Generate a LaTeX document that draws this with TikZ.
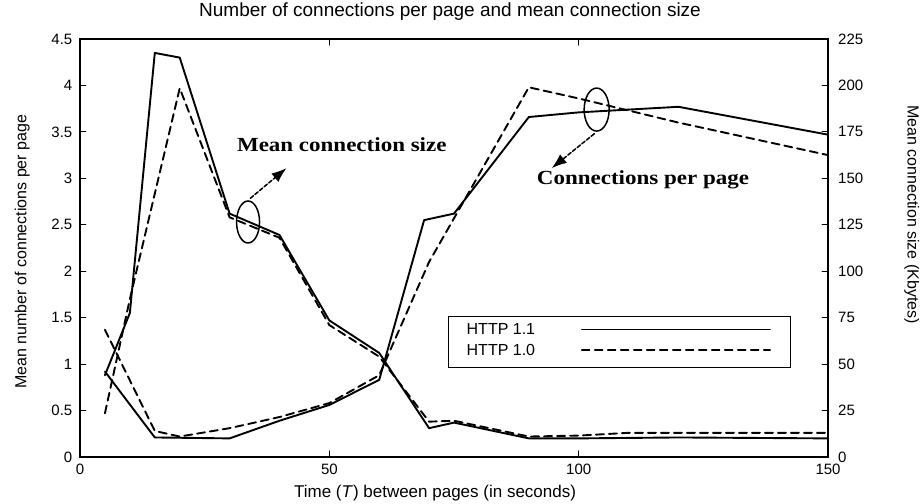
\documentclass[tikz,border=0pt]{standalone}
\usepackage{fontspec}
\setmainfont{Liberation Sans}
\newfontfamily\annfont{Liberation Serif}
\usepackage{tikz}
\usetikzlibrary{shapes.geometric, arrows.meta}
\tikzstyle{axisline} = [line width=1.6pt]
\tikzstyle{curvesolid} = [line width=1.9pt, line join=round]
\tikzstyle{curvedash} = [line width=1.9pt, line join=round, dash pattern=on 8pt off 5pt]
\tikzstyle{annarrow} = [line width=1.5pt, dash pattern=on 4pt off 2pt, shorten <=3pt, -{Latex[length=15pt,width=11pt]}]
\tikzstyle{ring} = [draw, ellipse, line width=1.5pt, inner sep=0pt]
\tikzstyle{ticklab} = [font=\fontsize{15}{18}\selectfont, inner sep=0pt]
\tikzstyle{ann} = [font=\annfont\bfseries\fontsize{20}{24}\selectfont, inner sep=0pt, xscale=1.15]

\begin{document}
\begin{tikzpicture}[line cap=round,x=4.987pt,y=92.88pt]
    \useasboundingbox (-16.04,-0.506) rectangle (169.24,4.920);
    % frame and ticks
    \draw[axisline] (0,0) rectangle (150,4.5);
    \foreach \yy in {0.5,1,...,4}
        \draw[line width=1pt] (0,\yy) -- ++(1.2,0) (150,\yy) -- ++(-1.2,0);
    \foreach \xx in {50,100}
        \draw[line width=1pt] (\xx,0) -- ++(0,0.065) (\xx,4.5) -- ++(0,-0.065);
    % tick labels
    \foreach \yy/\lab [count=\k] in {0/0,0.5/0.5,1/1,1.5/1.5,2/2,2.5/2.5,3/3,3.5/3.5,4/4,4.5/4.5}
        \node[ticklab, anchor=east] (yl\k) at (-1.5,\yy) {\lab};
    \foreach \yy/\lab [count=\k] in {0/0,0.5/25,1/50,1.5/75,2/100,2.5/125,3/150,3.5/175,4/200,4.5/225}
        \node[ticklab, anchor=west] (yr\k) at (152,\yy) {\lab};
    \foreach \xx [count=\k] in {0,50,100,150}
        \node[ticklab, anchor=north] (xl\k) at (\xx,-0.07) {\xx};
    % titles
    \node[font=\fontsize{19}{22}\selectfont] (title) at (74.2,4.79) {Number of connections per page and mean connection size};
    \node[font=\fontsize{17}{20}\selectfont] (xlabel) at (71.2,-0.39) {Time (\textit{T}) between pages (in seconds)};
    \node[font=\fontsize{16}{20}\selectfont, rotate=90] (ylabel) at (-11.6,2.21) {Mean number of connections per page};
    \node[font=\fontsize{16}{20}\selectfont, rotate=-90] (y2label) at (166.8,2.61) {Mean connection size (Kbytes)};
    % mean connection size
    \draw[curvesolid] plot coordinates {(5,0.88) (10,1.55) (15,4.35) (20,4.30) (30,2.62) (40,2.39) (50,1.47) (60,1.12) (70,0.31) (75,0.37) (90,0.2) (100,0.2) (120,0.21) (150,0.2)};
    \draw[curvedash] plot coordinates {(5,0.47) (10,1.7) (20,3.97) (30,2.58) (40,2.36) (50,1.42) (60,1.08) (70,0.38) (75,0.39) (90,0.22) (100,0.23) (110,0.26) (150,0.26)};
    % connections per page
    \draw[curvesolid] plot coordinates {(5,0.92) (15,0.21) (30,0.2) (40,0.39) (50,0.56) (60,0.83) (69,2.55) (75,2.62) (90,3.66) (100,3.71) (120,3.77) (150,3.47)};
    \draw[curvedash] plot coordinates {(5,1.37) (15,0.28) (20,0.22) (30,0.31) (40,0.43) (50,0.58) (60,0.88) (70,2.1) (90,3.98) (100,3.86) (120,3.6) (150,3.25)};
    % annotations
    \node[ring, minimum width=23pt, minimum height=42pt] (szring) at (33.7,2.53) {};
    \node[ring, minimum width=25pt, minimum height=43pt] (cnring) at (103.6,3.74) {};
    \node[ann] (szlabel) at (52.5,3.36) {Mean connection size};
    \node[ann] (cnlabel) at (112.9,2.98) {Connections per page};
    \coordinate (sztip) at (41.4,3.11);
    \coordinate (cntip) at (94.6,3.11);
    \draw[annarrow] (szring.north) -- (sztip);
    \draw[annarrow] (cnring.south) -- (cntip);
    % legend
    \node[draw, line width=1pt, anchor=south west, minimum width=342pt, minimum height=51.5pt] (legend) at (73.8,0.955) {};
    \node[font=\fontsize{16}{20}\selectfont, anchor=west, inner sep=0pt] (leg11) at (77.5,1.375) {HTTP 1.1};
    \node[font=\fontsize{16}{20}\selectfont, anchor=west, inner sep=0pt] (leg10) at (77.5,1.152) {HTTP 1.0};
    \coordinate (l11a) at (100.6,1.375);
    \coordinate (l11b) at (138.4,1.375);
    \coordinate (l10a) at (100.6,1.152);
    \coordinate (l10b) at (138.4,1.152);
    \draw[line width=1.2pt] (l11a) -- (l11b);
    \draw[line width=1.2pt, dash pattern=on 8pt off 5pt] (l10a) -- (l10b);
\end{tikzpicture}
\end{document}
